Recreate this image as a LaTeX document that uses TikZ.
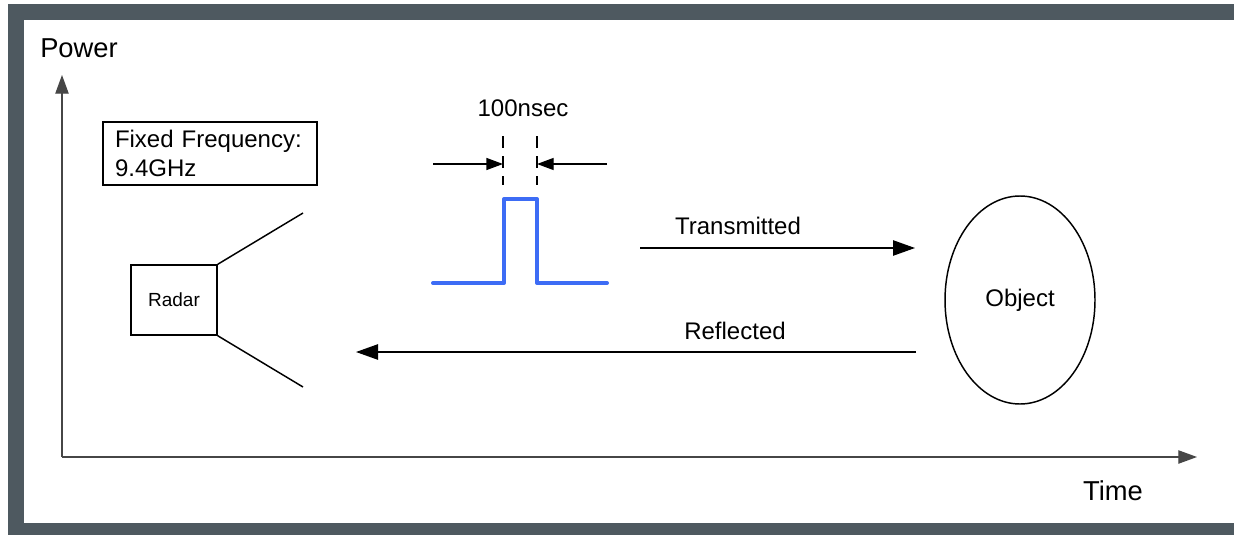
\documentclass[tikz,border=0pt]{standalone}
\usepackage{fontspec}
\setmainfont{Liberation Sans}
\usetikzlibrary{arrows.meta,shapes.geometric}
\definecolor{framegray}{RGB}{78,89,96}
\definecolor{pulseblue}{RGB}{61,108,245}
\definecolor{axisgray}{RGB}{70,70,70}
\begin{document}
\begin{tikzpicture}[x=0.75pt,y=-0.75pt,
  lbl/.style={font=\fontsize{18}{21.5}\selectfont, inner sep=0pt},
  biglbl/.style={font=\fontsize{20.5}{24}\selectfont, inner sep=0pt},
  axisline/.style={draw=axisgray, line width=0.9pt, -{Triangle[length=14pt,width=10pt]}},
  flowarrow/.style={draw=black, line width=1.1pt, -{Triangle[length=16.5pt,width=11.5pt]}},
  dimarrow/.style={draw=black, line width=1pt, -{Triangle[length=12.5pt,width=9pt]}},
  dimline/.style={draw=black, line width=1.1pt, dash pattern=on 9pt off 6pt},
  hornline/.style={draw=black, line width=1.1pt},
  pulse/.style={draw=pulseblue, line width=3pt, line join=round, line cap=round}]
\useasboundingbox (0,0) rectangle (1234,535);
\fill[white] (0,0) rectangle (1234,535);
% frame
\fill[framegray] (8,4) rectangle (1234,20);
\fill[framegray] (8,4) rectangle (24,535);
\fill[framegray] (8,523) rectangle (1234,535);
% axes
\coordinate (origin) at (62,457);
\coordinate (ytip) at (62,75);
\coordinate (xtip) at (1197,457);
\draw[axisline] (origin) -- (ytip);
\draw[axisline] (origin) -- (xtip);
\node[biglbl, anchor=base] (power) at (79,58) {Power};
\node[biglbl, anchor=base] (time) at (1113,500) {Time};
% fixed frequency box
\node[draw, line width=1.1pt, minimum width=160.5pt, minimum height=47.25pt,
  text width=142.5pt, inner xsep=9pt, inner ysep=0pt, align=left,
  font=\fontsize{18}{21.5}\selectfont] (ff) at (210,153.5) {Fixed Frequency:\\9.4GHz};
% radar
\node[draw, line width=1.1pt, minimum width=64.5pt, minimum height=52.5pt, inner sep=0pt,
  font=\fontsize{14.25}{17}\selectfont] (radar) at (174,300) {Radar};
\coordinate (hornTop) at (303,213);
\coordinate (hornBot) at (303,387);
\draw[hornline] (radar.north east) -- (hornTop);
\draw[hornline] (radar.south east) -- (hornBot);
% pulse
\coordinate (p0) at (433,283);
\coordinate (p1) at (504,283);
\coordinate (p2) at (504,199);
\coordinate (p3) at (537,199);
\coordinate (p4) at (537,283);
\coordinate (p5) at (607,283);
\draw[pulse] (p0) -- (p1) -- (p2) -- (p3) -- (p4) -- (p5);
% dimension
\coordinate (d1t) at (503,136);
\coordinate (d1b) at (503,185);
\coordinate (d2t) at (537,136);
\coordinate (d2b) at (537,185);
\draw[dimline] (d1t) -- (d1b);
\draw[dimline] (d2t) -- (d2b);
\coordinate (dl) at (433,164);
\coordinate (dlt) at (503,164);
\coordinate (dr) at (607,164);
\coordinate (drt) at (537,164);
\draw[dimarrow] (dl) -- (dlt);
\draw[dimarrow] (dr) -- (drt);
\node[lbl, anchor=base] (width) at (523,116) {100nsec};
% object
\node[draw, ellipse, line width=1.1pt, minimum width=112.5pt, minimum height=156pt, inner sep=0pt,
  font=\fontsize{18}{21.5}\selectfont] (object) at (1020,300) {Object};
% transmitted / reflected
\coordinate (tx0) at (640,248);
\coordinate (tx1) at (915,248);
\draw[flowarrow] (tx0) -- (tx1);
\node[lbl, anchor=base] (txl) at (738,234) {Transmitted};
\coordinate (rx0) at (916,352);
\coordinate (rx1) at (356,352);
\draw[flowarrow] (rx0) -- (rx1);
\node[lbl, anchor=base] (rxl) at (735,339) {Reflected};
\end{tikzpicture}
\end{document}
